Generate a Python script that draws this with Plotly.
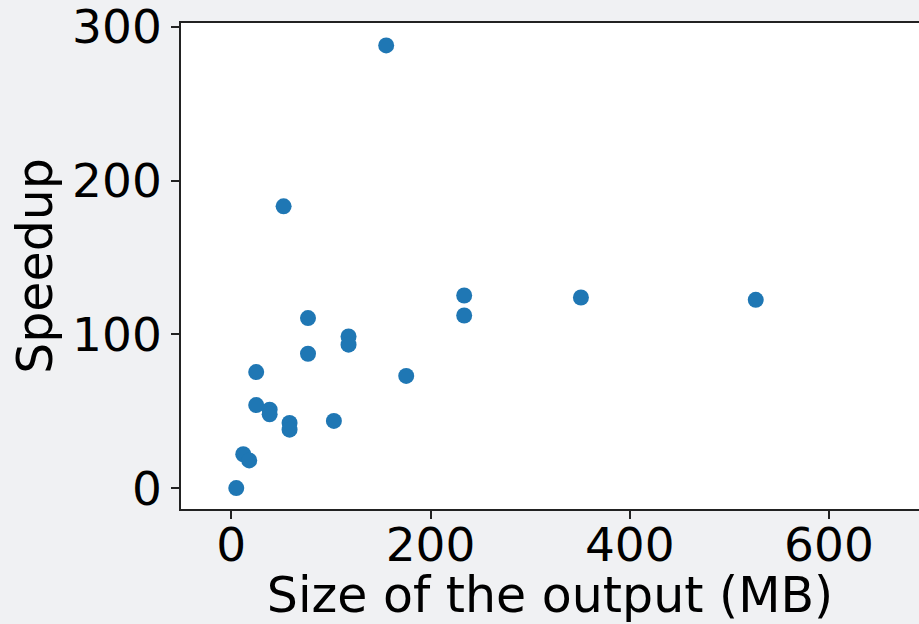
import plotly.graph_objects as go

size_mb = [5, 12, 18, 25, 25, 38.5, 38.5, 58.5, 58.5, 77, 77, 103,
           117.7, 117.7, 175.6, 233.8, 233.8, 351, 526.5, 155.5, 52.5]
speedup = [0, 22, 18, 75.5, 54, 51, 48, 42.4, 38, 110.6, 87.4, 43.7,
           98.7, 93.3, 73, 125.3, 112.3, 124, 122.5, 288, 183.3]

x_ticks = [0, 200, 400, 600]
y_ticks = [0, 100, 200, 300]

font_family = "DejaVu Sans"
bg = "#f0f1f3"

fig = go.Figure(go.Scatter(
    x=size_mb, y=speedup, mode="markers",
    marker=dict(color="#1f77b4", size=16, line=dict(width=0)),
))

fig.update_layout(
    width=919, height=624,
    margin=dict(l=181, r=0, t=23, b=115),
    paper_bgcolor=bg, plot_bgcolor="white",
    showlegend=False,
    font=dict(family=font_family, color="black"),
    xaxis=dict(
        range=[-50.5, 690.4], tickvals=x_ticks, ticktext=[str(v) for v in x_ticks],
        showgrid=False, zeroline=False, automargin=False,
        showline=True, linecolor="#222", linewidth=1.6, mirror=True,
        ticks="outside", ticklen=8, tickwidth=1.6, tickcolor="#222",
        ticklabelstandoff=-14, ticklabeloverflow="allow",
        tickfont=dict(size=47, family=font_family, color="black"),
        title=dict(text="Size of the output (MB)", font=dict(size=49, family=font_family, color="black"), standoff=20),
    ),
    yaxis=dict(
        range=[-13.6, 302.6], tickvals=y_ticks, ticktext=[str(v) for v in y_ticks],
        showgrid=False, zeroline=False, automargin=False,
        showline=True, linecolor="#222", linewidth=1.6, mirror=False,
        ticks="outside", ticklen=8, tickwidth=1.6, tickcolor="#222",
        ticklabeloverflow="allow",
        tickfont=dict(size=47, family=font_family, color="black"),
        title=dict(text="Speedup", font=dict(size=49, family=font_family, color="black"), standoff=4),
    ),
)

fig.write_html("out.html", config={"displayModeBar": False},
               post_script="document.body.style.margin='0';document.body.style.overflow='hidden';")
